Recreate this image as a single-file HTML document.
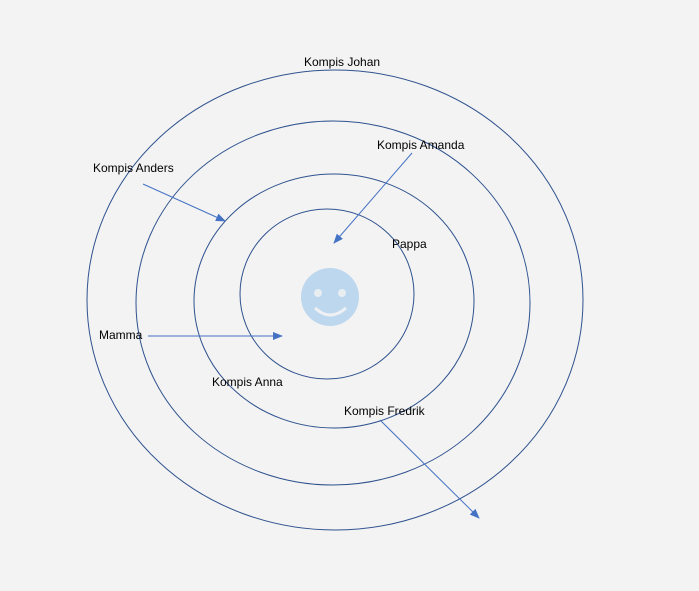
<!DOCTYPE html>
<html><head><style>body{margin:0;background:#f3f3f3;}svg{display:block}</style></head><body>
<svg width="699" height="591" xmlns="http://www.w3.org/2000/svg">
<defs><marker id="a" markerWidth="10" markerHeight="8" refX="9" refY="4" orient="auto" markerUnits="userSpaceOnUse"><path d="M0,0 L10,4 L0,8 z" fill="#4472c4"/></marker></defs>
<rect width="699" height="591" fill="#f3f3f3"/>
<g fill="none" stroke="#2f528f" stroke-width="1">
<ellipse cx="335" cy="300" rx="248" ry="230"/>
<ellipse cx="333" cy="303" rx="197" ry="182"/>
<ellipse cx="334" cy="301" rx="140" ry="127"/>
<ellipse cx="327" cy="294" rx="87" ry="85"/>
</g>
<circle cx="330" cy="297" r="29" fill="#bdd7ee"/>
<circle cx="318" cy="293" r="4" fill="#f3f3f3" opacity="0.8"/>
<circle cx="342" cy="293" r="4" fill="#f3f3f3" opacity="0.8"/>
<path d="M315,308 Q330,322 346,308" fill="none" stroke="#f3f3f3" stroke-width="3" opacity="0.9"/>
<g stroke="#4472c4" stroke-width="1" marker-end="url(#a)">
<line x1="143" y1="184" x2="225" y2="221"/>
<line x1="412" y1="153" x2="334" y2="243"/>
<line x1="148" y1="336" x2="282" y2="336"/>
<line x1="380" y1="420" x2="479" y2="518"/>
</g>
<g font-family="Liberation Sans, sans-serif" font-size="12" fill="#000">
<text x="304" y="66">Kompis Johan</text>
<text x="377" y="149">Kompis Amanda</text>
<text x="93" y="172">Kompis Anders</text>
<text x="392" y="248">Pappa</text>
<text x="99" y="339">Mamma</text>
<text x="212" y="386">Kompis Anna</text>
<text x="344" y="415">Kompis Fredrik</text>
</g>
</svg>
</body></html>
